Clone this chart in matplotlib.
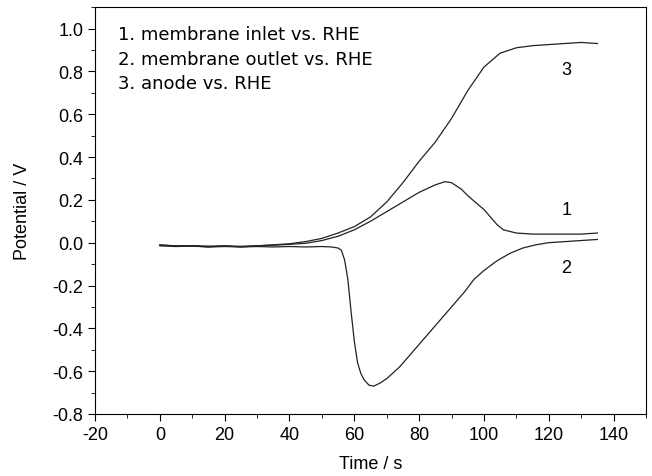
import numpy as np
import matplotlib
matplotlib.use("Agg")
import matplotlib.pyplot as plt
from matplotlib.ticker import MultipleLocator

plt.rcParams["font.family"] = ["Liberation Sans", "DejaVu Sans"]
plt.rcParams["axes.unicode_minus"] = False

# curve 1: membrane inlet vs. RHE
t1 = [0, 5, 10, 15, 20, 25, 30, 35, 40, 45, 50, 55, 60, 65, 70, 75, 80, 85, 88,
      90, 93, 95, 98, 100, 102, 104, 106, 110, 115, 120, 125, 130, 135]
v1 = [-0.012, -0.015, -0.014, -0.016, -0.015, -0.017, -0.014, -0.012, -0.008,
      -0.003, 0.01, 0.03, 0.06, 0.1, 0.145, 0.19, 0.235, 0.27, 0.285, 0.28,
      0.25, 0.22, 0.18, 0.155, 0.12, 0.085, 0.06, 0.045, 0.04, 0.04, 0.04,
      0.04, 0.045]

# curve 2: membrane outlet vs. RHE
t2 = [0, 5, 10, 15, 20, 25, 30, 35, 40, 45, 50, 53, 55, 56, 57, 58, 59, 60, 61,
      62, 63, 64.5, 66, 68, 70, 74, 78, 82, 86, 90, 94, 97, 100, 104, 108, 112,
      116, 120, 125, 130, 135]
v2 = [-0.015, -0.018, -0.016, -0.02, -0.018, -0.02, -0.018, -0.02, -0.018,
      -0.02, -0.018, -0.02, -0.025, -0.035, -0.08, -0.17, -0.32, -0.46, -0.56,
      -0.61, -0.64, -0.665, -0.67, -0.655, -0.635, -0.58, -0.51, -0.44, -0.37,
      -0.3, -0.23, -0.17, -0.13, -0.085, -0.05, -0.025, -0.01, 0.0, 0.005,
      0.01, 0.015]

# curve 3: anode vs. RHE
t3 = [0, 5, 10, 15, 20, 25, 30, 35, 40, 45, 50, 55, 60, 65, 70, 75, 80, 85, 90,
      95, 100, 105, 110, 115, 120, 125, 130, 135]
v3 = [-0.01, -0.015, -0.015, -0.02, -0.015, -0.02, -0.015, -0.01, -0.005,
      0.005, 0.02, 0.045, 0.075, 0.12, 0.19, 0.28, 0.38, 0.47, 0.58, 0.71,
      0.82, 0.885, 0.91, 0.92, 0.925, 0.93, 0.935, 0.93]

legend_lines = ["1. membrane inlet vs. RHE",
                "2. membrane outlet vs. RHE",
                "3. anode vs. RHE"]

fig = plt.figure(figsize=(6.52, 4.77), dpi=100)
ax = fig.add_axes([0.1457, 0.130, 0.8451, 0.853])

for t, v in [(t1, v1), (t2, v2), (t3, v3)]:
    ax.plot(t, v, color="#222222", lw=0.9)

ax.text(125.5, 0.81, "3", fontsize=13, ha="center", va="center")
ax.text(125.5, 0.155, "1", fontsize=13, ha="center", va="center")
ax.text(125.5, -0.115, "2", fontsize=13, ha="center", va="center")

for i, s in enumerate(legend_lines):
    ax.text(-12.9, 0.973 - i * 0.114, s, fontsize=13, ha="left",
            va="center", family="DejaVu Sans")

ax.set_xlim(-20, 150)
ax.set_ylim(-0.8, 1.1)
ax.xaxis.set_major_locator(MultipleLocator(20))
ax.xaxis.set_minor_locator(MultipleLocator(10))
ax.yaxis.set_major_locator(MultipleLocator(0.2))
ax.yaxis.set_minor_locator(MultipleLocator(0.1))
ax.yaxis.set_major_formatter(plt.FuncFormatter(lambda y, p: f"{y:.1f}"))
ax.tick_params(which="both", direction="out", top=False, right=False,
               labelsize=13)
ax.tick_params(which="major", length=5)
ax.tick_params(which="minor", length=3)
ax.set_xlabel("Time / s", fontsize=13, labelpad=9)
ax.set_ylabel("Potential / V", fontsize=13, labelpad=15)

fig.savefig("out.png", dpi=100)
